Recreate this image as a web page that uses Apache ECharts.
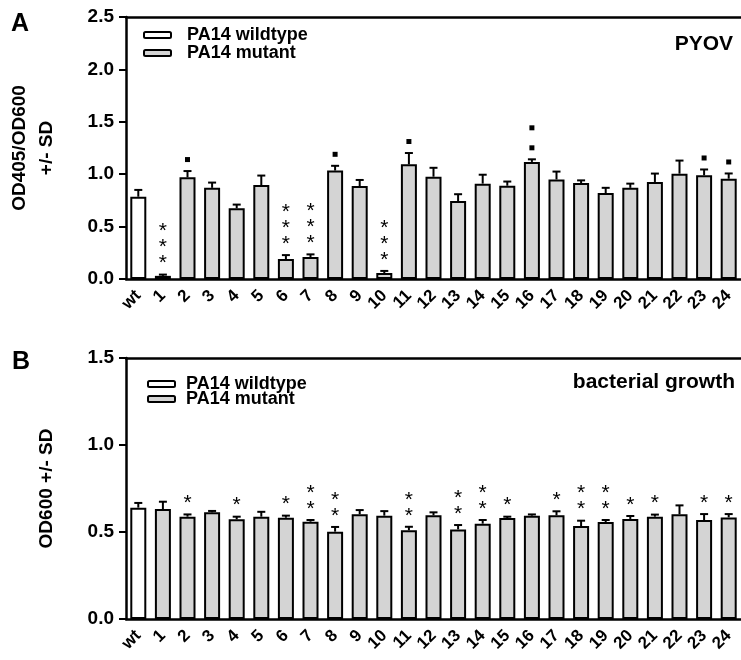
<!DOCTYPE html>
<html>
<head>
<meta charset="utf-8">
<script src="https://cdn.jsdelivr.net/npm/echarts@6.0.0/dist/echarts.min.js"></script>
<style>
  html, body { margin: 0; padding: 0; background: #fff; }
  #chart { width: 741px; height: 660px; }
</style>
</head>
<body>
<div id="chart"></div>
<script>
// x 轴类别
const categories = ['wt', '1', '2', '3', '4', '5', '6', '7', '8', '9', '10', '11', '12',
  '13', '14', '15', '16', '17', '18', '19', '20', '21', '22', '23', '24'];

// A: PYOV (OD405/OD600)
const pyovMean = [0.785, 0.03, 0.97, 0.87, 0.675, 0.897, 0.19, 0.21, 1.035, 0.887, 0.057, 1.094, 0.976,
  0.744, 0.91, 0.89, 1.117, 0.95, 0.916, 0.82, 0.87, 0.926, 1.005, 0.99, 0.957];
const pyovSd = [0.065, 0.012, 0.06, 0.05, 0.035, 0.09, 0.038, 0.025, 0.045, 0.058, 0.02, 0.108, 0.085,
  0.065, 0.085, 0.04, 0.025, 0.075, 0.025, 0.05, 0.04, 0.08, 0.125, 0.055, 0.05];
const pyovSig = ['', '***', '■', '', '', '', '***', '***', '■', '', '***', '■', '',
  '', '', '', '■■', '', '', '', '', '', '', '■', '■'];
const pyovTicks = [0, 0.5, 1.0, 1.5, 2.0, 2.5];

// B: bacterial growth (OD600)
const growthMean = [0.64, 0.632, 0.588, 0.613, 0.573, 0.588, 0.582, 0.559, 0.502, 0.602, 0.594, 0.51, 0.596,
  0.515, 0.548, 0.58, 0.594, 0.596, 0.534, 0.557, 0.575, 0.588, 0.602, 0.569, 0.584];
const growthSd = [0.027, 0.042, 0.013, 0.008, 0.015, 0.028, 0.012, 0.01, 0.027, 0.024, 0.026, 0.02, 0.017,
  0.025, 0.021, 0.008, 0.007, 0.023, 0.031, 0.012, 0.017, 0.012, 0.051, 0.034, 0.019];
const growthSig = ['', '', '*', '', '*', '', '*', '**', '**', '', '', '**', '',
  '**', '**', '*', '', '*', '**', '**', '*', '*', '', '*', '*'];
const growthTicks = [0, 0.5, 1.0, 1.5];

const FONT = '"Liberation Sans", Arial, sans-serif';

const chart = echarts.init(document.getElementById('chart'));

// 误差线 (only upper half, GraphPad style)
function errorItem(params, api) {
  const i = api.value(0);
  const m = api.value(1);
  const s = api.value(2);
  const base = api.coord([i, m]);
  const top = api.coord([i, m + s]);
  return {
    type: 'group',
    children: [
      { type: 'line', shape: { x1: base[0], y1: base[1], x2: top[0], y2: top[1] },
        style: { stroke: '#000', lineWidth: 2 } },
      { type: 'line', shape: { x1: top[0] - 4, y1: top[1], x2: top[0] + 4, y2: top[1] },
        style: { stroke: '#000', lineWidth: 2 } }
    ]
  };
}

// 显著性标记
function sigRenderer(sig) {
  return function (params, api) {
    const i = api.value(0);
    const top = api.coord([i, api.value(1)]);
    const marks = sig[params.dataIndex].split('');
    const children = marks.map((ch, k) => {
      if (ch === '■') {
        const cy = top[1] - 11.5 - 20 * k;
        return { type: 'rect', shape: { x: top[0] - 2.5, y: cy - 2.5, width: 5, height: 5 },
          style: { fill: '#000' } };
      }
      const cy = top[1] - 15 - 16 * k;
      return { type: 'text', x: top[0], y: cy + 4,
        style: { text: '*', fill: '#000', font: '21px ' + FONT, align: 'center', verticalAlign: 'middle' } };
    });
    return { type: 'group', children: children };
  };
}

function panelSeries(gridIdx, mean, sd, sig) {
  const wt = mean.map((v, i) => (i === 0 ? v : '-'));
  const mut = mean.map((v, i) => (i === 0 ? '-' : v));
  const err = mean.map((v, i) => [i, v, sd[i]]);
  const tops = mean.map((v, i) => [i, v + sd[i]]);
  return [
    {
      name: 'PA14 wildtype', type: 'bar', xAxisIndex: gridIdx * 2, yAxisIndex: gridIdx,
      data: wt, barWidth: 16, barGap: '-100%',
      itemStyle: { color: '#ffffff', borderColor: '#000', borderWidth: 2 }
    },
    {
      name: 'PA14 mutant', type: 'bar', xAxisIndex: gridIdx * 2, yAxisIndex: gridIdx,
      data: mut, barWidth: 16, barGap: '-100%',
      itemStyle: { color: '#d4d4d4', borderColor: '#000', borderWidth: 2 }
    },
    {
      type: 'custom', xAxisIndex: gridIdx * 2, yAxisIndex: gridIdx, z: 5,
      renderItem: errorItem, data: err, encode: { x: 0, y: 1 }, silent: true
    },
    {
      type: 'custom', xAxisIndex: gridIdx * 2, yAxisIndex: gridIdx, z: 5,
      renderItem: sigRenderer(sig), data: tops, encode: { x: 0, y: 1 }, silent: true
    }
  ];
}

function xAxes(gridIdx) {
  return [
    {
      type: 'category', gridIndex: gridIdx, data: categories, position: 'bottom',
      axisLine: { lineStyle: { color: '#000', width: 2.5 } },
      axisTick: { alignWithLabel: true, length: 7, lineStyle: { color: '#000', width: 2 } },
      axisLabel: { interval: 0, rotate: 45, color: '#000', fontFamily: FONT, fontWeight: 'bold',
        fontSize: 17, margin: 14 }
    },
    {
      type: 'category', gridIndex: gridIdx, data: categories, position: 'top',
      axisLine: { lineStyle: { color: '#000', width: 2.5 } },
      axisTick: { show: false }, axisLabel: { show: false }
    }
  ];
}

function yAxis(gridIdx, ticks, name, gap) {
  return {
    type: 'value', gridIndex: gridIdx, min: ticks[0], max: ticks[ticks.length - 1], interval: 0.5,
    name: name, nameLocation: 'middle', nameGap: gap, nameRotate: 90,
    nameTextStyle: { color: '#000', fontFamily: FONT, fontWeight: 'bold', fontSize: 19, lineHeight: 27 },
    axisLine: { show: true, lineStyle: { color: '#000', width: 2.5 } },
    axisTick: { show: true, length: 7, lineStyle: { color: '#000', width: 2 } },
    splitLine: { show: false },
    axisLabel: { color: '#000', fontFamily: FONT, fontWeight: 'bold', fontSize: 19, margin: 12,
      formatter: v => v.toFixed(1) }
  };
}

const option = {
  animation: false,
  backgroundColor: '#fff',
  grid: [
    { left: 126, right: 0, top: 17, height: 262, outerBoundsMode: 'none', containLabel: false },
    { left: 126, right: 0, top: 358, height: 261, outerBoundsMode: 'none', containLabel: false }
  ],
  legend: [
    {
      data: ['PA14 wildtype', 'PA14 mutant'], orient: 'vertical', left: 143, top: 26, padding: 0,
      itemWidth: 27, itemHeight: 6, itemGap: 0,
      textStyle: { color: '#000', fontFamily: FONT, fontWeight: 'bold', fontSize: 18, lineHeight: 18,
        padding: [0, 0, 0, 11] }
    },
    {
      data: ['PA14 wildtype', 'PA14 mutant'], orient: 'vertical', left: 147, top: 375, padding: 0,
      itemWidth: 27, itemHeight: 6, itemGap: -3,
      textStyle: { color: '#000', fontFamily: FONT, fontWeight: 'bold', fontSize: 18, lineHeight: 18,
        padding: [0, 0, 0, 6] }
    }
  ],
  xAxis: xAxes(0).concat(xAxes(1)),
  yAxis: [
    yAxis(0, pyovTicks, 'OD405/OD600\n+/- SD', 66),
    yAxis(1, growthTicks, 'OD600 +/- SD', 66)
  ],
  graphic: [
    { type: 'text', left: 11, top: 12, style: { text: 'A', fill: '#000', font: 'bold 25px ' + FONT } },
    { type: 'text', left: 12, top: 350, style: { text: 'B', fill: '#000', font: 'bold 25px ' + FONT } },
    { type: 'text', right: 8, top: 34, style: { text: 'PYOV', fill: '#000', font: 'bold 21px ' + FONT } },
    { type: 'text', right: 6, top: 372, style: { text: 'bacterial growth', fill: '#000', font: 'bold 21px ' + FONT } }
  ],
  series: panelSeries(0, pyovMean, pyovSd, pyovSig).concat(panelSeries(1, growthMean, growthSd, growthSig))
};

chart.setOption(option);
</script>
</body>
</html>
